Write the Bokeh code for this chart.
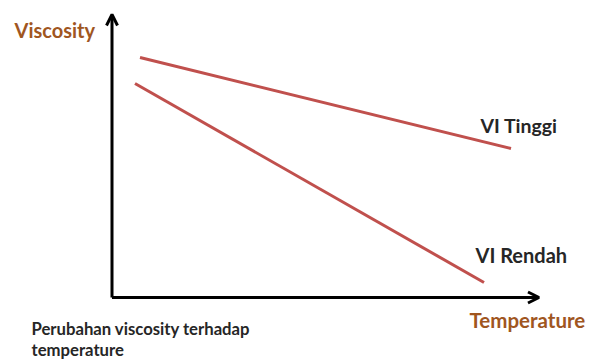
from bokeh.plotting import figure
from bokeh.models import Range1d, Arrow, OpenHead, Label
from bokeh.embed import file_html
from bokeh.resources import INLINE

# Conceptual data (axis units, origin at axis corner)
temperature_tinggi = [28, 399]
viscosity_tinggi = [240, 149]
temperature_rendah = [23, 372]
viscosity_rendah = [214, 15]
axis_x_end = 427
axis_y_end = 283

y_label = "Viscosity"
x_label = "Temperature"
series_labels = ["VI Tinggi", "VI Rendah"]
caption = ["Perubahan viscosity terhadap", "temperature"]

W, H = 601, 364
p = figure(width=W, height=H, output_backend="svg", toolbar_location=None,
           x_range=Range1d(-111.5, 489.5), y_range=Range1d(-67, 297),
           min_border=0, outline_line_color=None)
p.axis.visible = False
p.grid.visible = False
p.background_fill_color = "white"
p.border_fill_color = "white"

red = "#C0504D"
p.line(temperature_tinggi, viscosity_tinggi, line_color=red, line_width=3)
p.line(temperature_rendah, viscosity_rendah, line_color=red, line_width=3)

head = dict(size=11, line_width=3, line_color="black")
p.add_layout(Arrow(end=OpenHead(**head), x_start=0, y_start=0, x_end=axis_x_end, y_end=0,
                   line_width=3, line_color="black"))
p.add_layout(Arrow(end=OpenHead(**head), x_start=0, y_start=0, x_end=0, y_end=axis_y_end,
                   line_width=3, line_color="black"))

brown = "#A0561F"
dark = "#262626"
font = "Lato"

def lab(text, x, y, color, size):
    p.add_layout(Label(x=x, y=y, x_units="screen", y_units="screen", text=text,
                       text_color=color, text_font=font, text_font_style="bold",
                       text_font_size=size, text_baseline="alphabetic", text_align="left"))

lab(y_label, 14, 335, brown, "20px")
lab(x_label, 469, 45, brown, "20.5px")
lab(series_labels[0], 480, 239, dark, "19.5px")
lab(series_labels[1], 475, 110, dark, "20px")
lab(caption[0], 31, 36, dark, "16.7px")
lab(caption[1], 31, 15, dark, "16.7px")

open("out.html", "w").write(file_html(p, INLINE))
